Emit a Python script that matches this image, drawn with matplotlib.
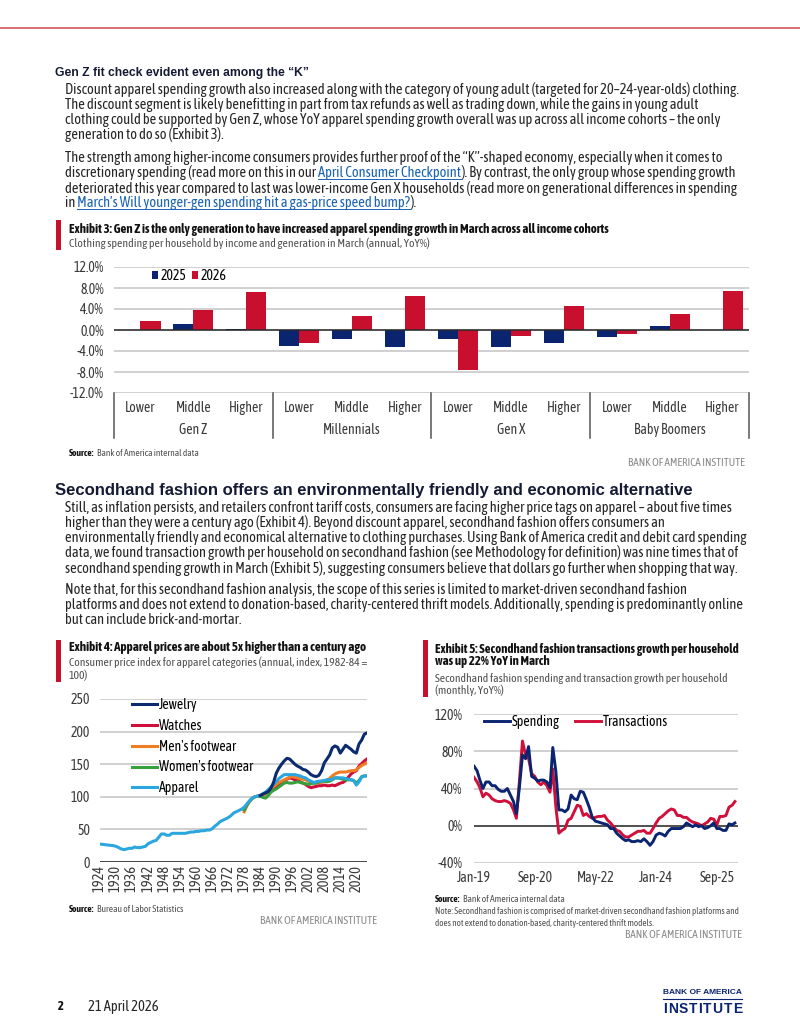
import numpy as np
import pandas as pd
import matplotlib
matplotlib.use('Agg')
import matplotlib.pyplot as plt
import matplotlib.transforms as mtrans
import matplotlib.dates as mdates
from matplotlib import font_manager as fm
from matplotlib.lines import Line2D
from matplotlib.patches import Rectangle

# ==================== colours ====================
NAVY = '#0b2470'
RED = '#c8102e'
INK = '#262626'
GREY = '#505050'
LINK = '#1a64b4'
GRID = '#c4c4c4'

# ==================== Exhibit 3 data ====================
generations = ['Gen Z', 'Millennials', 'Gen X', 'Baby Boomers']
incomes = ['Lower', 'Middle', 'Higher']
yoy_2025 = [0.0, 1.2, 0.2, -3.0, -1.8, -3.2, -1.8, -3.2, -2.5, -1.4, 0.8, 0.0]
yoy_2026 = [1.7, 3.9, 7.3, -2.4, 2.6, 6.5, -7.6, -1.1, 4.5, -0.8, 3.1, 7.5]

# ==================== Exhibit 4 data (CPI, 1982-84=100) ====================
apparel_years = list(range(1924, 2025))
apparel = [27.5, 27, 26.5, 26, 25.5, 25, 24, 22, 20, 19,
           20, 21, 21, 23, 22, 22, 23, 24, 28, 30,
           32, 33, 38, 43, 43, 41, 41, 44, 44, 44,
           44, 44, 44, 45, 46, 46, 47, 47, 48, 48,
           49, 49, 51, 55, 58, 62, 64, 66, 68, 71,
           75, 77, 79, 81, 84, 89, 94, 98, 100, 101,
           102, 105, 107, 111, 115, 119, 123, 128, 131, 134,
           134, 134, 134, 134, 133, 132, 130, 129, 126, 124,
           122, 123, 124, 124, 125, 126, 126, 127, 129, 129,
           129, 129, 128, 127, 126, 125, 118, 123, 130, 132,
           132]
jewelry_years = list(range(1984, 2025))
jewelry = [102, 104, 106, 108, 113, 122, 136, 144, 150, 155,
           159, 158, 154, 150, 147, 145, 142, 141, 138, 134,
           132, 131, 133, 140, 152, 158, 164, 175, 178, 176,
           167, 173, 179, 176, 173, 169, 167, 181, 187, 196,
           198]
watches_years = list(range(1986, 2025))
watches = [106, 109, 112, 114, 116, 119, 122, 125, 127, 129,
           128, 126, 125, 123, 121, 119, 116, 114, 115, 116,
           117, 117, 118, 117, 117, 118, 117, 119, 121, 122,
           125, 130, 135, 138, 140, 147, 151, 155, 158]
footwear_years = list(range(1978, 2025))
mens_footwear = [77, 86, 93, 98, 100, 101, 101, 102, 104, 108,
                 112, 116, 119, 122, 124, 126, 128, 130, 131, 130,
                 129, 128, 127, 126, 124, 122, 121, 121, 122, 122,
                 124, 126, 128, 132, 135, 137, 138, 138, 138, 139,
                 140, 140, 141, 145, 148, 150, 152]
womens_footwear = [80, 87, 93, 97, 100, 101, 101, 99, 98, 102,
                   107, 110, 112, 115, 118, 121, 122, 121, 121, 122,
                   123, 122, 121, 120, 119, 120, 121, 121, 123, 124,
                   124, 123, 124, 126, 129, 129, 128, 127, 126, 126,
                   126, 125, 121, 125, 131, 132, 132]
cpi_ticks = list(range(1924, 2021, 6))

# ==================== Exhibit 5 data (monthly YoY %) ====================
months = pd.date_range('2019-01-01', periods=87, freq='MS')
spending = [64, 59, 49, 40, 47, 47, 43, 43, 39, 37,
            37, 40, 33, 26, 13, 42, 76, 72, 85, 53,
            51, 48, 49, 49, 47, 41, 84, 58, 17, 17,
            15, 18, 33, 29, 28, 37, 36, 28, 20, 9,
            5, 4, 3, 2, 1, -3, -3, -8, -11, -14,
            -16, -15, -17, -17, -16, -17, -14, -17, -21, -17,
            -10, -8, -9, -11, -6, -3, -3, -3, -3, -1,
            3, 1, -1, 1, -1, 0, -3, -2, 0, 3,
            -3, -3, -5, -5, 2, 1, 3]
transactions = [52, 47, 41, 31, 35, 33, 29, 27, 26, 26,
                27, 26, 24, 17, 8, 49, 91, 76, 72, 56,
                53, 47, 44, 47, 43, 36, 61, 20, -8, -5,
                -3, 6, 8, 15, 22, 21, 11, 13, 10, 8,
                9, 10, 10, 11, 6, 3, -1, -5, -6, -10,
                -12, -12, -10, -8, -6, -6, -5, -8, -8, -3,
                3, 8, 10, 13, 16, 18, 17, 11, 11, 9,
                9, 6, 4, 3, 2, 0, 2, 4, 8, 7,
                1, 10, 10, 11, 20, 22, 26]
month_ticks = ['2019-01-01', '2020-09-01', '2022-05-01', '2024-01-01', '2025-09-01']

# ==================== page text ====================
head1 = 'Gen Z fit check evident even among the “K”'
para1 = [
    'Discount apparel spending growth also increased along with the category of young adult (targeted for 20–24-year-olds) clothing.',
    'The discount segment is likely benefitting in part from tax refunds as well as trading down, while the gains in young adult',
    'clothing could be supported by Gen Z, whose YoY apparel spending growth overall was up across all income cohorts – the only',
    'generation to do so (Exhibit 3).',
]
para2 = [
    [('The strength among higher-income consumers provides further proof of the “K”-shaped economy, especially when it comes to', False)],
    [('discretionary spending (read more on this in our ', False), ('April Consumer Checkpoint', True),
     ('). By contrast, the only group whose spending growth', False)],
    [('deteriorated this year compared to last was lower-income Gen X households (read more on generational differences in spending', False)],
    [('in ', False), ('March’s Will younger-gen spending hit a gas-price speed bump?', True), (').', False)],
]
head2 = 'Secondhand fashion offers an environmentally friendly and economic alternative'
para3 = [
    'Still, as inflation persists, and retailers confront tariff costs, consumers are facing higher price tags on apparel – about five times',
    'higher than they were a century ago (Exhibit 4). Beyond discount apparel, secondhand fashion offers consumers an',
    'environmentally friendly and economical alternative to clothing purchases. Using Bank of America credit and debit card spending',
    'data, we found transaction growth per household on secondhand fashion (see Methodology for definition) was nine times that of',
    'secondhand spending growth in March (Exhibit 5), suggesting consumers believe that dollars go further when shopping that way.',
]
para4 = [
    'Note that, for this secondhand fashion analysis, the scope of this series is limited to market-driven secondhand fashion',
    'platforms and does not extend to donation-based, charity-centered thrift models. Additionally, spending is predominantly online',
    'but can include brick-and-mortar.',
]

# ==================== helpers (pixel layout) ====================
W, H = 800, 1035
fig = plt.figure(figsize=(W / 100, H / 100), dpi=100)
renderer = fig.canvas.get_renderer()


def fx(x):
    return x / W


def fy(y):
    return 1 - y / H


def text_box(s, **kw):
    t = fig.text(0, 0, s, **kw)
    bb = t.get_window_extent(renderer)
    t.remove()
    return bb


def text_width(s, **kw):
    return text_box(s, **kw).width


def fit_size(s, width, **kw):
    return 10 * width / text_width(s, fontsize=10, **kw)


# the report is set in a condensed sans: look for one that is about 82% of Arial's width
installed = {f.name for f in fm.fontManager.ttflist}
cands = []
for f in fm.fontManager.ttflist:
    low = f.name.lower()
    if any(w in low for w in ('serif', 'mono', 'extra', 'ultra', 'cjk')):
        continue
    if 'narrow' in low or 'condensed' in low or f.stretch in ('condensed', 'semi-condensed'):
        cands.append((f.name, f.stretch if f.stretch in ('condensed', 'semi-condensed') else 'normal'))
cands += [(n, 'normal') for n in ['Roboto', 'Lato', 'Liberation Sans'] if n in installed]
cands = list(dict.fromkeys(cands))
ref_w = text_width(para1[0], fontsize=10, family='Liberation Sans')
NARROW, STRETCH = min(cands, key=lambda c: abs(
    text_width(para1[0], fontsize=10, family=c[0], fontstretch=c[1]) / ref_w - 0.82))
WIDE = ['Liberation Sans', 'DejaVu Sans']
plt.rcParams['font.family'] = [NARROW, 'DejaVu Sans']
plt.rcParams['font.stretch'] = STRETCH

body = fit_size(para1[0], 677)
LBL = fit_size('Baby Boomers', 65) * 1.1   # chart labels, a touch wider than the reference face
SRC = fit_size('Source: Bank of America internal data', 130)
EM = LBL * 100 / 72                          # one em of chart text, in pixels
ROW_H = text_box('Jewelry', fontsize=LBL).height


def put(x, y, s, **kw):
    kw.setdefault('va', 'center')
    return fig.text(fx(x), fy(y), s, **kw)


def put_runs(x, y, runs, size, **kw):
    # runs: list of (text, is_link); positions from measured prefix widths
    done = ''
    iw = text_width('I', fontsize=size, **kw)
    for s, link in runs:
        x0 = x + text_width(done + 'I', fontsize=size, **kw) - iw if done else x
        put(x0, y, s, fontsize=size, color=LINK if link else INK, **kw)
        if link:
            w = text_width(s, fontsize=size, **kw)
            fig.add_artist(Line2D([fx(x0), fx(x0 + w)], [fy(y + 6)] * 2, color=LINK, lw=0.7))
        done += s


def source_line(x, y, label, text):
    put(x, y, label, fontsize=SRC, fontweight='bold', color='#111111')
    gap = text_width(label, fontsize=SRC, fontweight='bold') + 2.5
    put(x + gap, y, text, fontsize=SRC, color=GREY)


def red_bar(x, y0, y1):
    fig.add_artist(Rectangle((fx(x), fy(y1)), 5 / W, (y1 - y0) / H, color=RED,
                             transform=fig.transFigure, lw=0))


def institute(x, y):
    s = 'BANK OF AMERICA INSTITUTE'
    put(x, y, s, fontsize=fit_size(s, 117), color='#8a8a8a', ha='right')


# ==================== top of page ====================
fig.add_artist(Line2D([0, 1], [fy(28)] * 2, color='#d8636c', lw=1.3))

put(55, 73, head1, fontsize=fit_size(head1, 252, family=WIDE, fontweight='bold'),
    family=WIDE, fontweight='bold', color='#141a33')
for i, line in enumerate(para1):
    put(65, 90 + 15 * i, line, fontsize=body, color=INK)
for i, runs in enumerate(para2):
    put_runs(65, 158 + 15 * i, runs, body)

# ==================== Exhibit 3 ====================
red_bar(56, 220, 250)
t3 = 'Exhibit 3: Gen Z is the only generation to have increased apparel spending growth in March across all income cohorts'
put(69, 229, t3, fontsize=fit_size(t3, 536, fontweight='bold'), fontweight='bold', color='#111111')
s3 = 'Clothing spending per household by income and generation in March (annual, YoY%)'
put(69, 243, s3, fontsize=fit_size(s3, 361), color=GREY)

ax3 = fig.add_axes([fx(114), fy(393), 635 / W, 126 / H])
xpos = np.arange(len(yoy_2025))
ax3.bar(xpos - 0.19, yoy_2025, 0.38, color=NAVY, label='2025', zorder=3)
ax3.bar(xpos + 0.19, yoy_2026, 0.38, color=RED, label='2026', zorder=3)
ax3.axhline(0, color='#2a2a2a', lw=1.1, zorder=4)
ax3.set_xlim(-0.5, len(xpos) - 0.5)
ax3.set_ylim(-12, 12)
ax3.set_yticks(np.arange(-12, 13, 4))
ax3.set_yticklabels([f'{v:.1f}%' for v in np.arange(-12, 13, 4)])
ax3.set_xticks(xpos)
ax3.set_xticklabels(incomes * len(generations))
ax3.tick_params(length=0, labelsize=LBL, colors='#3a3a3a')
ax3.tick_params(axis='x', pad=6)
ax3.tick_params(axis='y', pad=7.2)
ax3.grid(axis='y', color=GRID, lw=1.1, zorder=0)
for sp in ax3.spines.values():
    sp.set_visible(False)
tr3 = mtrans.blended_transform_factory(ax3.transData, ax3.transAxes)
for g, name in enumerate(generations):
    ax3.text(3 * g + 1, -0.295, name, transform=tr3, ha='center', va='center',
             fontsize=LBL, color='#3a3a3a')
for b in np.arange(-0.5, len(xpos), 3):
    ax3.plot([b, b], [0, -0.36], transform=tr3, color='#555555', lw=1.1, clip_on=False)
w25 = text_width('2025', fontsize=LBL)
ax3.legend(loc='center left', bbox_to_anchor=((152 - 114) / 635, (393 - 276) / 126), ncol=2,
           frameon=False, fontsize=LBL, borderpad=0, borderaxespad=0,
           handlelength=6 / EM, handleheight=6 / EM, handletextpad=3 / EM,
           columnspacing=(192 - 161 - w25) / EM)
source_line(69, 453, 'Source:', 'Bank of America internal data')
institute(745, 463)

# ==================== section 2 ====================
put(55, 491, head2, fontsize=fit_size(head2, 640, family=WIDE, fontweight='bold'),
    family=WIDE, fontweight='bold', color='#141a33')
for i, line in enumerate(para3):
    put(65, 508 + 15 * i, line, fontsize=body, color=INK)
for i, line in enumerate(para4):
    put(65, 590 + 15 * i, line, fontsize=body, color=INK)

# ==================== Exhibit 4 ====================
red_bar(56, 640, 682)
t4 = 'Exhibit 4: Apparel prices are about 5x higher than a century ago'
put(69, 648, t4, fontsize=fit_size(t4, 293, fontweight='bold'), fontweight='bold', color='#111111')
s4a = 'Consumer price index for apparel categories (annual, index, 1982-84 ='
s4size = fit_size(s4a, 296)
put(69, 662, s4a, fontsize=s4size, color=GREY)
put(69, 675, '100)', fontsize=s4size, color=GREY)

ax4 = fig.add_axes([fx(100), fy(862), 267 / W, 163 / H])
ax4.plot(jewelry_years, jewelry, color='#0b2a6f', lw=2.2, label='Jewelry', zorder=6)
ax4.plot(watches_years, watches, color='#d0103a', lw=2.2, label='Watches', zorder=3)
ax4.plot(footwear_years, mens_footwear, color='#ee7d23', lw=2.2, label="Men's footwear", zorder=3)
ax4.plot(footwear_years, womens_footwear, color='#36a03a', lw=2.2, label="Women's footwear", zorder=4)
ax4.plot(apparel_years, apparel, color='#2ba6de', lw=2.2, label='Apparel', zorder=5)
ax4.set_xlim(1924, 2024)
ax4.set_ylim(0, 250)
ax4.set_yticks(range(0, 251, 50))
ax4.set_xticks(cpi_ticks)
ax4.set_xticklabels([str(y) for y in cpi_ticks], rotation=90)
ax4.tick_params(length=0, labelsize=LBL, colors='#3a3a3a')
ax4.tick_params(axis='x', labelsize=fit_size('1924', 27), pad=2)
ax4.tick_params(axis='y', pad=7.2)
ax4.grid(axis='y', color=GRID, lw=1.1, zorder=0)
for sp in ax4.spines.values():
    sp.set_visible(False)
ax4.axhline(0, color='#3a3a3a', lw=1.3, zorder=2)
ax4.legend(loc='upper left', bbox_to_anchor=((132 - 100) / 267, (862 - 705 + ROW_H / 2) / 163),
           frameon=False, fontsize=LBL, borderpad=0, borderaxespad=0,
           handlelength=25 / EM, handletextpad=2 / EM, labelspacing=(20.8 - ROW_H) / EM)
source_line(69, 909, 'Source:', 'Bureau of Labor Statistics')
institute(377, 921)

# ==================== Exhibit 5 ====================
red_bar(423, 640, 697)
t5 = ['Exhibit 5: Secondhand fashion transactions growth per household', 'was up 22% YoY in March']
t5size = fit_size(t5[0], 300, fontweight='bold')
put(435, 649, t5[0], fontsize=t5size, fontweight='bold', color='#111111')
put(435, 662, t5[1], fontsize=t5size, fontweight='bold', color='#111111')
s5 = ['Secondhand fashion spending and transaction growth per household', '(monthly, YoY%)']
s5size = fit_size(s5[0], 293)
put(435, 678, s5[0], fontsize=s5size, color=GREY)
put(435, 690, s5[1], fontsize=s5size, color=GREY)

ax5 = fig.add_axes([fx(474), fy(863), 264 / W, 149 / H])
ax5.plot(months, spending, color='#0a2470', lw=2.1, label='Spending', zorder=4)
ax5.plot(months, transactions, color='#d0103a', lw=2.1, label='Transactions', zorder=3)
ax5.axhline(0, color='#3a3a3a', lw=1.2, zorder=2)
ax5.set_xlim(months[0], pd.Timestamp('2026-04-01'))
ax5.set_ylim(-40, 120)
ax5.set_yticks(range(-40, 121, 40))
ax5.set_yticklabels([f'{v}%' for v in range(-40, 121, 40)])
ax5.set_xticks(pd.to_datetime(month_ticks))
ax5.xaxis.set_major_formatter(mdates.DateFormatter('%b-%y'))
ax5.tick_params(length=0, labelsize=LBL, colors='#3a3a3a')
ax5.tick_params(axis='y', pad=8)
ax5.tick_params(axis='x', pad=6)
ax5.grid(axis='y', color=GRID, lw=1.1, zorder=0)
for sp in ax5.spines.values():
    sp.set_visible(False)
wsp = text_width('Spending', fontsize=LBL)
ax5.legend(loc='center left', bbox_to_anchor=((484 - 474) / 264, (863 - 722) / 149), ncol=2,
           frameon=False, fontsize=LBL, borderpad=0, borderaxespad=0,
           handlelength=26 / EM, handletextpad=2 / EM,
           columnspacing=max(575 - 484 - 26 - 2 - wsp, 12) / EM)
source_line(435, 900, 'Source:', 'Bank of America internal data')
note = ['Note: Secondhand fashion is comprised of market-driven secondhand fashion platforms and',
        'does not extend to donation-based, charity-centered thrift models.']
nsize = fit_size(note[0], 307)
put(435, 912, note[0], fontsize=nsize, color=GREY)
put(435, 923, note[1], fontsize=nsize, color=GREY)
institute(742, 935)

# ==================== footer ====================
put(58, 1007, '2', fontsize=9, fontweight='bold', color='#111111')
put(88, 1007, '21 April 2026', fontsize=body, color=INK)
put(742, 992, 'BANK OF AMERICA', fontsize=fit_size('BANK OF AMERICA', 79, fontweight='bold', family=WIDE),
    fontweight='bold', family=WIDE, color=NAVY, ha='right')
fig.add_artist(Line2D([fx(663), fx(742)], [fy(999)] * 2, color=NAVY, lw=0.8))
logo_kw = dict(fontsize=10, fontweight='bold', family=WIDE)
widths = [text_width(ch, **logo_kw) for ch in 'INSTITUTE']
gap = (79 - sum(widths)) / 8
cx = 663
for ch, w in zip('INSTITUTE', widths):
    put(cx, 1009, ch, color=NAVY, ha='left', **logo_kw)
    cx += w + gap

fig.savefig('out.png', dpi=100)
